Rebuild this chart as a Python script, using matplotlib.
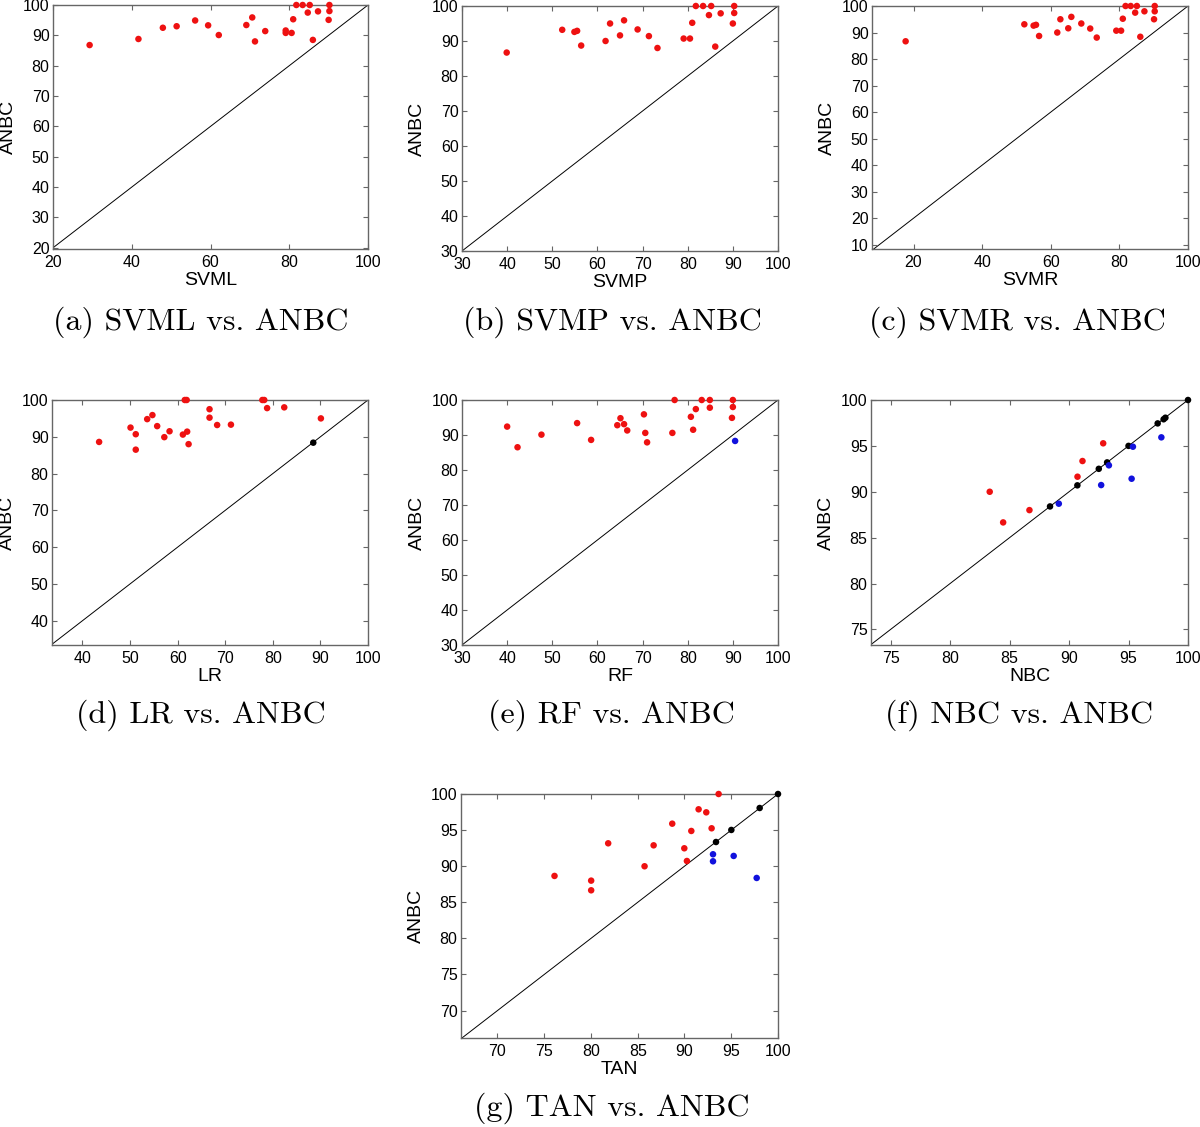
import matplotlib
matplotlib.use("Agg")
import matplotlib.pyplot as plt

# ANBC accuracy (y) against each competing classifier (x), one point per dataset
svml_x = [29.3, 41.7, 47.9, 51.4, 56.1, 59.4, 62.1, 69.1, 70.6, 71.3, 73.9, 79.1,
          79.1, 80.6, 81.0, 81.8, 83.4, 85.2, 84.7, 87.3, 86.0, 90.2, 90.2, 90.0]
svml_y = [86.8, 88.8, 92.5, 93.0, 94.9, 93.3, 90.1, 93.4, 95.9, 88.0, 91.4, 91.6,
          90.8, 90.8, 95.3, 100.0, 100.0, 100.0, 97.5, 97.9, 88.5, 100.0, 98.0, 95.1]

svmp_x = [39.9, 52.2, 54.9, 55.5, 56.4, 61.8, 62.8, 65.0, 65.9, 68.9, 71.4, 73.3,
          79.1, 80.5, 81.0, 81.8, 83.4, 85.2, 84.7, 87.3, 86.1, 90.3, 90.3, 90.0]
svmp_y = [86.7, 93.2, 92.6, 92.9, 88.7, 90.0, 95.0, 91.6, 95.9, 93.3, 91.4, 88.0,
          90.7, 90.7, 95.2, 100.0, 100.0, 100.0, 97.4, 97.9, 88.4, 100.0, 98.0, 95.0]

svmr_x = [17.7, 52.3, 55.0, 55.7, 56.6, 61.9, 62.8, 65.1, 66.0, 68.9, 71.5, 73.4,
          79.1, 80.5, 81.0, 81.8, 83.3, 85.1, 84.6, 87.3, 86.1, 90.3, 90.3, 90.1]
svmr_y = [86.7, 93.1, 92.6, 92.9, 88.7, 90.0, 95.0, 91.6, 95.9, 93.4, 91.5, 88.1,
          90.7, 90.7, 95.2, 100.0, 100.0, 100.0, 97.5, 98.0, 88.4, 100.0, 98.0, 95.0]

lr_x = [43.5, 50.1, 51.2, 51.2, 53.6, 54.7, 55.7, 57.2, 58.3, 61.1, 61.5, 61.9,
        62.0, 62.3, 66.7, 66.7, 68.3, 71.2, 77.8, 78.2, 78.8, 82.4, 90.1, 88.5]
lr_y = [88.6, 92.5, 90.7, 86.5, 94.8, 95.9, 92.9, 89.9, 91.5, 90.6, 100.0, 100.0,
        91.4, 88.0, 97.5, 95.2, 93.2, 93.3, 100.0, 100.0, 97.8, 98.0, 95.0, 88.4]
lr_res = ["w"] * 23 + ["t"]

rf_x = [40.0, 42.3, 47.6, 55.5, 58.6, 64.4, 65.1, 65.9, 66.6, 70.3, 70.6, 71.0,
        76.6, 77.1, 80.7, 81.2, 81.8, 83.1, 84.9, 84.9, 90.0, 90.0, 89.8, 90.5]
rf_y = [92.4, 86.5, 90.1, 93.4, 88.6, 92.8, 94.8, 93.1, 91.3, 95.9, 90.6, 87.9,
        90.6, 100.0, 95.2, 91.5, 97.4, 100.0, 100.0, 97.8, 100.0, 98.0, 94.9, 88.3]
rf_res = ["w"] * 23 + ["l"]

nbc_x = [100.0, 98.1, 97.95, 97.45, 95.0, 93.2, 92.5, 90.7, 88.4,
         97.76, 95.37, 93.35, 92.7, 95.26, 89.14,
         83.33, 84.46, 86.67, 90.71, 91.13, 92.87]
nbc_y = [100.0, 98.07, 97.9, 97.45, 95.0, 93.2, 92.5, 90.7, 88.4,
         95.93, 94.91, 92.88, 90.73, 91.42, 88.70,
         90.0, 86.66, 88.0, 91.64, 93.35, 95.28]
nbc_res = ["t"] * 9 + ["l"] * 6 + ["w"] * 6

tan_x = [100.0, 98.04, 95.01, 93.37,
         93.05, 93.05, 95.26, 97.72,
         93.65, 91.51, 92.33, 88.69, 90.73, 92.9, 81.84, 86.70, 89.98, 90.26,
         85.73, 76.10, 80.02, 80.02]
tan_y = [100.0, 98.06, 95.02, 93.35,
         91.65, 90.68, 91.42, 88.37,
         100.0, 97.88, 97.46, 95.89, 94.88, 95.25, 93.17, 92.89, 92.48, 90.72,
         89.99, 88.65, 88.0, 86.66]
tan_res = ["t"] * 4 + ["l"] * 4 + ["w"] * 14

res_colors = {"w": "#ee1111", "l": "#1111dd", "t": "black"}

# (name, caption, x, y, results, xlim, ylim, xticks, yticks, axes box px, caption center px)
panels = [
    ("SVML", "(a) SVML vs. ANBC", svml_x, svml_y, None, (20, 100), (19.6, 100),
     range(20, 101, 20), range(20, 101, 10), (53, 5, 368, 249), (201, 322)),
    ("SVMP", "(b) SVMP vs. ANBC", svmp_x, svmp_y, None, (30, 100), (30, 100),
     range(30, 101, 10), range(30, 101, 10), (462, 6, 778, 251), (612, 322)),
    ("SVMR", "(c) SVMR vs. ANBC", svmr_x, svmr_y, None, (7.9, 100), (8.4, 100),
     range(20, 101, 20), range(10, 101, 10), (872, 6, 1188, 249), (1017, 322)),
    ("LR", "(d) LR vs. ANBC", lr_x, lr_y, lr_res, (33.6, 100), (33.4, 100),
     range(40, 101, 10), range(40, 101, 10), (52, 400, 368, 645), (201, 715)),
    ("RF", "(e) RF vs. ANBC", rf_x, rf_y, rf_res, (30, 100), (30, 100),
     range(30, 101, 10), range(30, 101, 10), (462, 400, 778, 645), (611, 715)),
    ("NBC", "(f) NBC vs. ANBC", nbc_x, nbc_y, nbc_res, (73.35, 100), (73.3, 100),
     range(75, 101, 5), range(75, 101, 5), (871, 400, 1188, 645), (1019, 715)),
    ("TAN", "(g) TAN vs. ANBC", tan_x, tan_y, tan_res, (66.1, 100), (66.2, 100),
     range(70, 101, 5), range(70, 101, 5), (461, 794, 778, 1038), (612, 1108)),
]

W, H = 1200, 1127
fig = plt.figure(figsize=(W / 100, H / 100), dpi=100)
plt.rcParams["font.family"] = ["Liberation Sans", "DejaVu Sans"]

for name, cap, xs, ys, res, xl, yl, xt, yt, box, cc in panels:
    x0, y0, x1, y1 = box
    ax = fig.add_axes([x0 / W, 1 - y1 / H, (x1 - x0) / W, (y1 - y0) / H])
    lo = min(xl[0], yl[0])
    ax.plot([lo, 100], [lo, 100], color="black", linewidth=0.7, zorder=1)
    if res is None:
        res = ["w"] * len(xs)
    cols = [res_colors[r] for r in res]
    ax.scatter(xs, ys, s=22, c=cols, linewidths=0, zorder=3, clip_on=False)
    ax.set_xlim(xl)
    ax.set_ylim(yl)
    ax.set_xticks(list(xt))
    ax.set_yticks(list(yt))
    ax.tick_params(direction="in", top=True, right=True, length=3.5,
                   color="#666666", labelsize=11.5, labelcolor="black")
    ax.tick_params(axis="x", pad=4.5)
    ax.tick_params(axis="y", pad=2.5)
    for sp in ax.spines.values():
        sp.set_color("#666666")
        sp.set_linewidth(1.0)
    ax.set_xlabel(name, fontsize=14, labelpad=1)
    ax.set_ylabel("ANBC", fontsize=14, labelpad=4)
    fig.text(cc[0] / W, 1 - cc[1] / H, cap, fontfamily="cmr10", fontsize=23,
             ha="center", va="center")

fig.savefig("out.png", dpi=100)
